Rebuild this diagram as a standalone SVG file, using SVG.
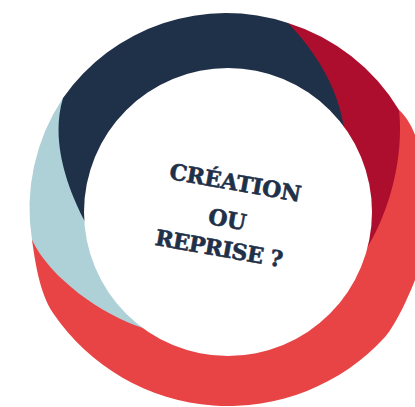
<svg xmlns="http://www.w3.org/2000/svg" width="415" height="407" viewBox="0 0 415 407">
  <style>
    .red { fill: #e84445; }
    .crimson { fill: #ad0e2e; }
    .blue { fill: #aed1d7; }
    .navy { fill: #1f3049; }
    .hole { fill: #ffffff; }
    .label { font-family: "DejaVu Serif", "Liberation Serif", serif; font-weight: bold; font-size: 22px; fill: #1f3049; stroke: #1f3049; stroke-width: 0.6; text-anchor: middle; }
  </style>
  <rect width="415" height="407" fill="#ffffff"/>
  <g id="seg-red">
    <path class="red" d="M 399,110 C 433,140 431,240 415,280 C 409,295 397,323 385,337 A 212 212 0 0 1 53,313 C 39,292 35,260 32,240 L 120,240 L 300,200 L 360,140 Z"/>
  </g>
  <g id="seg-crimson">
    <path class="crimson" d="M 288,23 A 199 199 0 0 1 399,110 C 403,145 396,200 367,248 L 350,276 L 330,140 L 300,60 Z"/>
  </g>
  <g id="seg-lightblue">
    <path class="blue" d="M 63,98 A 199 199 0 0 0 32,240 C 50,278 102,315 143,328 L 160,335 L 110,230 L 75,130 Z"/>
  </g>
  <g id="seg-navy">
    <path class="navy" d="M 100,250 L 83,218 C 65,182 51,138 63,98 A 199 199 0 0 1 288,23 C 316,52 338,88 344,128 L 350,165 Z"/>
  </g>
  <g id="center">
    <circle class="hole" cx="228" cy="212" r="144"/>
    <g transform="translate(226,227) rotate(10)">
      <text class="label" x="1.5" y="-37.5" textLength="133" lengthAdjust="spacing">CRÉATION</text>
      <text class="label" x="0" y="0" textLength="38" lengthAdjust="spacing">OU</text>
      <text class="label" x="-3" y="30" textLength="129" lengthAdjust="spacing">REPRISE ?</text>
    </g>
  </g>
</svg>
